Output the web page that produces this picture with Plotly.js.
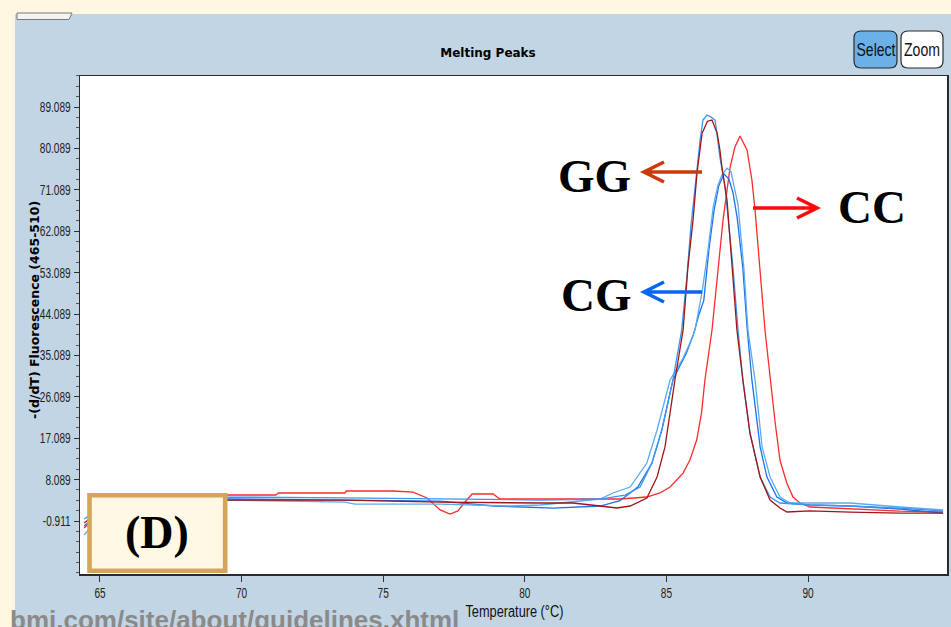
<!DOCTYPE html>
<html><head><meta charset="utf-8">
<script src="https://cdn.plot.ly/plotly-3.0.1.min.js"></script>
<style>html,body{margin:0;padding:0;background:#C2D5E4;overflow:hidden;}#chart{width:951px;height:627px;}</style>
</head><body><div id="chart"></div>
<script>
// ---- tick labels ----
const xTickVals = [65, 70, 75, 80, 85, 90];
const xTickText = ["65", "70", "75", "80", "85", "90"];
const yTickText = ["-0.911", "8.089", "17.089", "26.089", "35.089", "44.089", "53.089", "62.089", "71.089", "80.089", "89.089"];
const yTickVals = yTickText.map(Number);

// ---- series: temperature (°C) and -(d/dT) fluorescence ----
// GG sample (dark red)
const ggRedT = [64.44, 65.2, 66.5, 69.52, 73.65, 76.0, 77.0, 80.54, 81.7, 82.66, 83.26, 83.72, 84.31, 84.67, 84.95, 85.13, 85.30, 85.59, 85.76, 85.94, 86.08, 86.26, 86.45, 86.61, 86.79, 86.89, 86.96, 87.14, 87.30, 87.49, 87.70, 87.95, 88.31, 88.66, 89.01, 89.26, 90.07, 91.48, 93.25, 94.77];
const ggRedV = [-1.35, 2.2, 3.4, 3.65, 3.65, 3.4, 3.2, 3.0, 3.0, 2.35, 1.92, 2.35, 4.09, 8.65, 15.2, 22.6, 29.74, 40.61, 54.3, 64.5, 74.7, 83.4, 86.0, 86.26, 83.44, 79.74, 76.05, 68.87, 56.5, 40.61, 29.74, 18.22, 8.65, 3.65, 1.92, 1.05, 1.3, 1.0, 0.8, 0.8];
// GG sample (blue)
const ggBlueT = [64.44, 65.2, 66.5, 69.52, 73.65, 77.0, 80.54, 82.66, 83.54, 84.07, 84.49, 84.84, 85.23, 85.54, 85.72, 85.87, 86.08, 86.19, 86.29, 86.43, 86.55, 86.72, 86.89, 87.07, 87.35, 87.53, 87.70, 87.95, 88.31, 88.66, 89.01, 90.07, 91.48, 93.25, 94.77];
const ggBlueV = [-0.48, 2.5, 3.9, 4.3, 4.1, 3.87, 3.65, 3.87, 4.74, 6.48, 11.7, 18.9, 29.7, 40.6, 52.0, 63.4, 76.05, 81.9, 86.26, 87.35, 87.0, 86.26, 78.2, 71.7, 54.3, 40.6, 29.7, 18.2, 8.65, 4.31, 3.0, 2.57, 2.35, 1.9, 1.26];
// CG samples (two blues)
const cgLightT = [64.44, 65.2, 66.5, 69.52, 73.65, 74.0, 77.0, 79.5, 80.54, 81.7, 82.66, 83.11, 83.72, 84.31, 84.67, 85.13, 85.34, 85.59, 85.83, 86.01, 86.26, 86.47, 86.65, 86.82, 86.96, 87.14, 87.28, 87.42, 87.53, 87.74, 87.88, 88.13, 88.38, 88.66, 89.01, 89.36, 91.48, 93.25, 94.77];
const cgLightV = [-3.95, 1.5, 3.2, 3.65, 3.2, 2.78, 2.78, 2.35, 2.57, 3.2, 3.87, 5.18, 6.48, 11.7, 18.87, 29.74, 31.9, 34.5, 37.8, 40.6, 48.9, 58.0, 67.3, 72.1, 74.3, 75.8, 75.0, 71.0, 67.8, 53.7, 40.6, 29.7, 15.2, 8.65, 4.31, 3.0, 3.0, 2.13, 1.48];
const cgDarkT = [64.44, 65.2, 66.5, 69.52, 73.65, 77.0, 78.9, 81.0, 82.66, 83.36, 83.99, 84.49, 84.84, 85.23, 85.45, 85.70, 85.95, 86.15, 86.32, 86.50, 86.68, 86.85, 87.03, 87.20, 87.35, 87.50, 87.70, 87.85, 88.02, 88.31, 88.55, 88.90, 89.26, 90.07, 91.48, 93.25, 94.77];
const cgDarkV = [-2.0, 2.0, 3.5, 3.87, 3.65, 3.4, 2.35, 1.9, 2.35, 3.5, 6.48, 11.7, 18.9, 29.7, 32.5, 35.5, 39.5, 44.0, 47.0, 58.0, 66.5, 72.0, 74.5, 73.5, 70.5, 65.0, 54.0, 41.0, 29.7, 15.2, 8.65, 4.31, 3.0, 2.6, 2.35, 1.7, 0.8];
// CC sample (red)
const ccT = [64.44, 65.2, 66.5, 69.52, 71.21, 71.3, 73.65, 73.7, 75.35, 76.05, 76.55, 77.01, 77.36, 77.64, 77.89, 78.14, 78.88, 79.12, 81.70, 83.36, 84.31, 84.77, 85.13, 85.59, 85.83, 86.07, 86.24, 86.36, 86.61, 86.80, 87.00, 87.25, 87.42, 87.60, 87.85, 88.02, 88.13, 88.48, 88.66, 88.83, 89.01, 89.25, 89.47, 89.72, 90.07, 91.48, 93.25, 94.77];
const ccV = [-2.43, 2.0, 4.3, 4.74, 4.74, 5.18, 5.18, 5.61, 5.61, 5.39, 4.09, 1.5, 0.61, 1.3, 3.22, 4.96, 4.96, 3.87, 3.87, 3.87, 4.31, 5.18, 6.48, 9.5, 12.35, 16.7, 22.6, 29.74, 40.61, 52.0, 64.5, 76.0, 80.4, 82.8, 79.7, 73.2, 66.7, 40.61, 29.74, 21.0, 12.35, 7.35, 4.31, 3.0, 2.13, 1.7, 1.26, 1.05];

// ---- layout geometry helpers (pixel -> paper) ----
const PL = 80, PR = 947, PT = 76, PB = 574, W = 951, H = 627;
const fx = p => (p - PL) / (PR - PL);
const fy = p => (PB - p) / (PB - PT);

const SANS = "'Liberation Sans', Arial, sans-serif";
const SERIF = "'Liberation Serif', 'Times New Roman', serif";

function line(x, y, color, width) {
  return {type: 'scatter', mode: 'lines', x: x, y: y, line: {color: color, width: width || 1.3}, hoverinfo: 'skip', showlegend: false};
}
const traces = [
  line(ccT, ccV, '#FF2B2B'),
  line(cgDarkT, cgDarkV, '#1A73E8'),
  line(cgLightT, cgLightV, '#5AAAF2'),
  line(ggBlueT, ggBlueV, '#3A96F0'),
  line(ggRedT, ggRedV, '#A31515')
];

function rectPx(x0, y0, x1, y1, fill, lineColor, lw, layer) {
  return {type: 'rect', xref: 'paper', yref: 'paper', x0: fx(x0), x1: fx(x1), y0: fy(y0), y1: fy(y1),
    fillcolor: fill, line: {color: lineColor || fill, width: lw || 0}, layer: layer || 'above'};
}
function roundRect(x0, y0, x1, y1, r) {
  const P = (x, y) => fx(x) + ',' + fy(y);
  return 'M' + P(x0 + r, y0) + ' L' + P(x1 - r, y0) + ' Q' + P(x1, y0) + ' ' + P(x1, y0 + r) +
    ' L' + P(x1, y1 - r) + ' Q' + P(x1, y1) + ' ' + P(x1 - r, y1) + ' L' + P(x0 + r, y1) +
    ' Q' + P(x0, y1) + ' ' + P(x0, y1 - r) + ' L' + P(x0, y0 + r) + ' Q' + P(x0, y0) + ' ' + P(x0 + r, y0) + ' Z';
}
function arrowPath(tx, ty, hx, hy, back, spread) {
  const P = (x, y) => fx(x) + ',' + fy(y);
  const dir = hx > tx ? -1 : 1;
  return 'M' + P(tx, ty) + ' L' + P(hx, hy) + ' M' + P(hx + dir * back, hy - spread) + ' L' + P(hx, hy) + ' L' + P(hx + dir * back, hy + spread);
}
function arrowShape(tx, ty, hx, hy, color) {
  return {type: 'path', xref: 'paper', yref: 'paper', path: arrowPath(tx, ty, hx, hy, 20, 10), line: {color: color, width: 3.6}, layer: 'above'};
}

const shapes = [
  rectPx(-5, -5, 15, 640, '#FFF7E1', null, 0, 'below'),
  rectPx(-5, -5, 960, 14, '#FFF7E1', null, 0, 'below'),
  {type: 'path', xref: 'paper', yref: 'paper', path: 'M' + fx(17) + ',' + fy(13) + ' L' + fx(17) + ',' + fy(19.5) + ' L' + fx(69) + ',' + fy(19.5) + ' L' + fx(72) + ',' + fy(13) + ' Z', fillcolor: '#F4F4F4', line: {color: '#777', width: 1}, layer: 'above'},
  {type: 'path', xref: 'paper', yref: 'paper', path: roundRect(854, 31, 897, 68, 7), fillcolor: '#6BB0E6', line: {color: '#2b2b2b', width: 1.2}, layer: 'above'},
  {type: 'path', xref: 'paper', yref: 'paper', path: roundRect(901, 31, 943, 68, 7), fillcolor: '#FFFFFF', line: {color: '#2b2b2b', width: 1.2}, layer: 'above'},
  rectPx(89.5, 495.3, 225.2, 570.7, '#FEF8E4', '#D5A656', 4.6, 'above'),
  arrowShape(702, 172, 644, 172, '#CC3A0A'),
  arrowShape(702, 292, 644, 292, '#0A66F2'),
  arrowShape(753, 208, 817, 208, '#FF0A0A')
];

function txt(text, x, y, font, extra) {
  return Object.assign({text: text, xref: 'paper', yref: 'paper', x: fx(x), y: fy(y), showarrow: false,
    xanchor: 'center', yanchor: 'middle', font: font}, extra || {});
}
const annotations = [
  txt('<b>-(d/dT) Fluorescence (465-510)</b>', 34, 310, {family: "'DejaVu Sans', sans-serif", size: 12.5, color: '#000'}, {textangle: -90}),
  txt('Temperature (°C)', 514, 611, {family: SANS, size: 16, color: '#111'}),
  txt('Select', 875.5, 49.5, {family: SANS, size: 18, color: '#111'}),
  txt('Zoom', 922, 49.5, {family: SANS, size: 18, color: '#111'}),
  txt('<b>(D)</b>', 157, 532, {family: SERIF, size: 46, color: '#000'}),
  txt('<b>GG</b>', 594, 176, {family: SERIF, size: 47, color: '#000'}),
  txt('<b>CG</b>', 596, 295, {family: SERIF, size: 47, color: '#000'}),
  txt('<b>CC</b>', 872, 207, {family: SERIF, size: 47, color: '#000'}),
  txt('<b>bmi.com/site/about/guidelines.xhtml</b>', 8, 603, {family: SANS, size: 26, color: '#8A8A8A'}, {xanchor: 'left', yanchor: 'top'})
];

const layout = {
  width: W, height: H,
  margin: {l: PL, r: W - PR, t: PT, b: H - PB, pad: 0},
  paper_bgcolor: '#C2D5E4',
  plot_bgcolor: '#FFFFFF',
  showlegend: false,
  hovermode: false,
  title: {text: '<b>Melting Peaks</b>', x: 488 / W, xref: 'container', xanchor: 'center', y: 1 - 53 / H, yref: 'container', yanchor: 'middle',
    font: {family: "'DejaVu Sans', sans-serif", size: 12, color: '#000'}},
  xaxis: {
    range: [64.294, 94.908], tickmode: 'array', tickvals: xTickVals, ticktext: xTickText,
    ticks: 'outside', ticklen: 6, tickwidth: 1, tickcolor: '#333',
    showgrid: false, zeroline: false, showline: true, linecolor: '#2a2a2a', linewidth: 1.5, mirror: true,
    tickfont: {family: SANS, size: 14, color: '#222'}
  },
  yaxis: {
    range: [-12.43, 95.83], tickmode: 'array', tickvals: yTickVals, ticktext: yTickText,
    ticks: 'outside', ticklen: 5, tickwidth: 1, tickcolor: '#333',
    minor: {tick0: -0.911, dtick: 2.25, ticks: 'outside', ticklen: 3, tickcolor: '#555', showgrid: false},
    showgrid: false, zeroline: false, showline: true, linecolor: '#2a2a2a', linewidth: 1.5, mirror: true,
    tickfont: {family: SANS, size: 14, color: '#222'}
  },
  shapes: shapes,
  annotations: annotations
};

Plotly.newPlot('chart', traces, layout, {displayModeBar: false, staticPlot: true}).then(gd => {
  // emulate the narrow UI font of the original by condensing glyphs
  const squeeze = (el, target) => { el.setAttribute('textLength', target); el.setAttribute('lengthAdjust', 'spacingAndGlyphs'); };
  gd.querySelectorAll('.xtick text, .ytick text').forEach(t => squeeze(t, t.getComputedTextLength() * 0.72));
  const targets = {'Select': 39, 'Zoom': 36, 'Temperature (°C)': 98};
  gd.querySelectorAll('.annotation-text').forEach(t => {
    const w = targets[t.textContent];
    if (w) squeeze(t, w);
  });
});
</script>
</body></html>
